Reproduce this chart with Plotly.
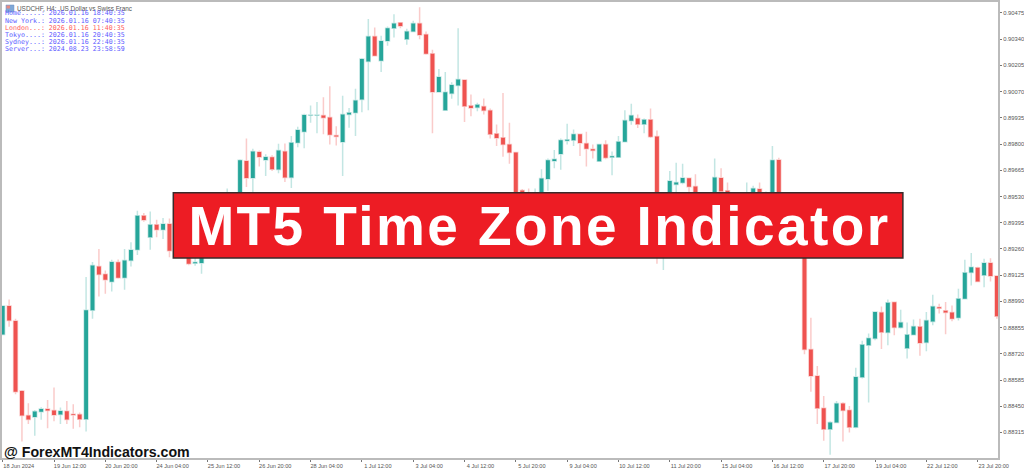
import plotly.graph_objects as go

# Prices in 1e-5 units
open_pts = [88819,88966,88889,88528,88402,88395,88421,88436,88428,88407,
88424,88409,88407,88383,88944,89169,89130,89091,89191,89111,
89200,89256,89431,89320,89385,89359,89388,89311,89281,89250,
89186,89188,89260,89337,89311,89404,89491,89455,89713,89625,
89759,89718,89732,89669,89761,89628,89807,89863,89948,89948,
89947,89937,89844,89810,89952,89961,90029,90225,90354,90229,
90331,90396,90424,90340,90379,90420,90364,90265,90068,89974,
90060,90102,90130,89997,89988,89993,89973,89853,89832,89798,
89756,89561,89527,89491,89516,89620,89713,89749,89817,89820,
89851,89803,89773,89711,89797,89732,89732,89812,89920,89932,
89902,89925,89839,89311,89388,89592,89600,89624,89581,89527,
89501,89532,89625,89559,89527,89506,89521,89532,89569,89516,
89516,89718,89491,89455,89404,89439,88742,88605,88440,88332,
88366,88464,88429,88342,88599,88764,88799,88933,88829,88985,
88855,88749,88818,88859,88778,88886,88959,88942,88933,88905,
89004,89139,89163,89125,89188,89120]
high_pts = [88966,89000,88901,88533,88465,88431,88445,88482,88547,88443,
88477,88460,88418,89115,89192,89260,89149,89204,89205,89260,
89294,89456,89445,89453,89410,89419,89417,89352,89311,89286,
89234,89286,89373,89388,89439,89571,89537,89721,89829,89776,
89767,89747,89742,89802,89803,89841,89889,89956,89998,90017,
90041,90097,89892,90049,89986,90084,90243,90444,90400,90357,
90405,90468,90427,90393,90435,90504,90379,90285,90186,90171,
90118,90396,90132,90055,90012,90034,89983,89901,90063,89910,
89757,89568,89571,89571,89670,89726,89769,89828,89904,89875,
89852,89863,89798,89797,89819,89762,89841,89974,90008,89952,
89932,89983,89870,89439,89661,89704,89699,89625,89644,89537,
89547,89726,89675,89602,89542,89547,89602,89585,89602,89556,
89790,89730,89527,89491,89491,89480,88905,88657,88503,88372,
88477,88470,88451,88648,88787,88824,88937,88964,88999,88988,
88947,88881,88896,88901,88935,89024,88978,88987,88969,89055,
89204,89239,89168,89209,89212,89122]
low_pts = [88819,88859,88511,88269,88358,88298,88380,88337,88372,88359,
88359,88334,88342,88320,88901,89015,89029,89041,89106,89050,
89169,89229,89400,89256,89320,89311,89217,89250,89224,89176,
89173,89132,89234,89260,89286,89373,89414,89424,89579,89516,
89684,89636,89661,89650,89605,89573,89784,89778,89910,89855,
89850,89798,89793,89636,89884,89841,89964,89974,90251,90171,
90306,90348,90396,90311,90379,90340,90260,89855,90068,89974,
90033,89998,89913,89943,89969,89952,89828,89790,89734,89699,
89465,89491,89480,89465,89491,89559,89675,89667,89798,89790,
89738,89684,89726,89711,89721,89639,89730,89810,89899,89882,
89855,89831,89183,89152,89352,89516,89593,89527,89491,89465,
89465,89501,89527,89491,89465,89475,89491,89501,89501,89496,
89491,89465,89424,89388,89373,88718,88525,88359,88272,88200,
88366,88269,88315,88337,88593,88469,88790,88744,88764,88816,
88850,88696,88814,88710,88733,88867,88927,88821,88887,88892,
89001,89072,89089,89062,89092,88901]
close_pts = [88966,88892,88525,88402,88382,88423,88436,88428,88405,88426,
88382,88405,88383,88944,89174,89128,89101,89192,89111,89200,
89255,89431,89409,89385,89359,89388,89251,89281,89250,89183,
89191,89260,89337,89311,89404,89491,89455,89716,89625,89761,
89733,89733,89670,89767,89628,89807,89872,89950,89950,89950,
89935,89848,89839,89952,89961,90024,90238,90354,90255,90331,
90396,90420,90408,90379,90420,90362,90265,90068,90145,90066,
90104,90132,89995,89986,90002,89973,89851,89831,89798,89756,
89491,89527,89516,89532,89622,89716,89721,89819,89822,89851,
89805,89776,89767,89797,89730,89737,89812,89921,89947,89902,
89925,89838,89337,89388,89610,89602,89625,89580,89527,89501,
89532,89628,89557,89527,89506,89532,89547,89571,89527,89542,
89716,89491,89455,89414,89439,88742,88605,88440,88331,88366,
88464,88428,88342,88600,88766,88800,88935,88831,88983,88855,
88881,88818,88860,88775,88891,88963,88954,88933,88901,89004,
89137,89166,89092,89188,89120,88913]

time_labels = ["18 Jun 2024","19 Jun 12:00","20 Jun 20:00","24 Jun 04:00","25 Jun 12:00",
               "26 Jun 20:00","28 Jun 04:00","1 Jul 12:00","3 Jul 04:00","4 Jul 12:00",
               "5 Jul 20:00","9 Jul 04:00","10 Jul 12:00","11 Jul 20:00","15 Jul 04:00",
               "16 Jul 12:00","17 Jul 20:00","19 Jul 04:00","22 Jul 12:00","23 Jul 20:00"]
price_ticks = [0.90475,0.90340,0.90205,0.90070,0.89935,0.89800,0.89665,0.89530,0.89395,
               0.89260,0.89125,0.88990,0.88855,0.88720,0.88585,0.88450,0.88315]
clock_lines = ["Home.....: 2026.01.16 18:40:35","New York.: 2026.01.16 07:40:35",
               "London...: 2026.01.16 11:40:35","Tokyo....: 2026.01.16 20:40:35",
               "Sydney...: 2026.01.16 22:40:35","Server...: 2024.08.23 23:58:59"]
clock_colors = ["#5a5aff","#5a5aff","#ff5a5a","#5a5aff","#5a5aff","#5a5aff"]

W, H = 1024, 469
L, R, T, B = 0, 1000, 2, 460
px = lambda x: (x - L) / (R - L)
py = lambda y: (B - y) / (B - T)
GREEN, RED = "#26a69a", "#ef5350"

bars = list(range(len(open_pts)))
fig = go.Figure(go.Candlestick(
    x=bars,
    open=[v / 1e5 for v in open_pts], high=[v / 1e5 for v in high_pts],
    low=[v / 1e5 for v in low_pts], close=[v / 1e5 for v in close_pts],
    whiskerwidth=0,
    increasing=dict(line=dict(color="rgba(38,166,154,0.28)", width=1.5), fillcolor=GREEN),
    decreasing=dict(line=dict(color="rgba(239,83,80,0.30)", width=1.5), fillcolor=RED),
    showlegend=False,
))

anns = [
    dict(x=px(539.5), y=py(227), text="<b>MT5 Time Zone Indicator</b>", showarrow=False,
         xanchor="center", yanchor="middle",
         font=dict(family="Liberation Sans", size=55, color="white")),
    dict(x=px(2), y=py(454), text="<b>@ ForexMT4Indicators.com</b>", showarrow=False,
         xanchor="left", yanchor="middle",
         font=dict(family="Liberation Sans", size=14.2, color="#111111")),
    dict(x=px(15), y=py(8.5), text="USDCHF, H4:  US Dollar vs Swiss Franc", showarrow=False,
         xanchor="left", yanchor="middle",
         font=dict(family="Liberation Sans", size=6.4, color="#555555")),
]
for line, color, yy in zip(clock_lines, clock_colors, [13.5, 20.7, 28, 35.2, 42.4, 49.7]):
    anns.append(dict(x=px(3), y=py(yy), text=line, showarrow=False, xanchor="left", yanchor="middle",
                     font=dict(family="DejaVu Sans Mono", size=6.64, color=color)))
for a in anns:
    a.update(xref="paper", yref="paper", borderpad=0, borderwidth=0)

shapes = [
    dict(type="rect", xref="paper", yref="paper", x0=px(172), x1=px(904.5), y0=py(259), y1=py(193.5),
         fillcolor="#ed1c24", line=dict(color="#3a2a2a", width=1.5), layer="above"),
    dict(type="rect", xref="paper", yref="paper", x0=px(4), x1=px(12), y0=py(12), y1=py(5),
         fillcolor="#7fa8d8", line=dict(color="#6a8fc0", width=0.5), layer="above"),
    dict(type="rect", xref="paper", yref="paper", x0=px(4.5), x1=px(8), y0=py(8.5), y1=py(5.5),
         fillcolor="#e88a80", line=dict(width=0), layer="above"),
]

fig.update_layout(
    width=W, height=H, autosize=False,
    margin=dict(l=L, r=W - R, t=T, b=H - B, pad=0),
    paper_bgcolor="white", plot_bgcolor="white",
    boxgap=0.14,
    annotations=anns, shapes=shapes,
    xaxis=dict(
        range=[(L - 0.7) / 6.44, (R - 0.7) / 6.44], rangeslider=dict(visible=False),
        tickmode="array", tickvals=[k * 8 for k in range(len(time_labels))], ticktext=time_labels,
        ticks="outside", ticklen=2, tickwidth=1, tickcolor="#777777",
        tickfont=dict(family="Liberation Sans", size=5.6, color="#555555"),
        tickangle=0, ticklabelshift=16, ticklabelstandoff=0,
        showgrid=False, zeroline=False, showline=True, linecolor="#bbbbbb", linewidth=1.5, mirror=True,
    ),
    yaxis=dict(
        range=[0.881834, 0.905313], side="right",
        tickmode="array", tickvals=price_ticks, ticktext=[f"{v:.5f}" for v in price_ticks],
        ticks="outside", ticklen=2, tickwidth=1, tickcolor="#777777",
        tickfont=dict(family="Liberation Sans", size=5.8, color="#555555"),
        showgrid=False, zeroline=False, showline=True, linecolor="#bbbbbb", linewidth=2, mirror=True,
    ),
)

post = """
document.documentElement.style.overflow='hidden';
document.body.style.margin='0';
document.body.style.overflow='hidden';
document.querySelectorAll('.annotation-text').forEach(function(t){
  if(t.textContent.indexOf('MT5')===0){t.style.letterSpacing='2.4px';}
});
"""
fig.write_html("out.html", post_script=post, config=dict(displayModeBar=False))
